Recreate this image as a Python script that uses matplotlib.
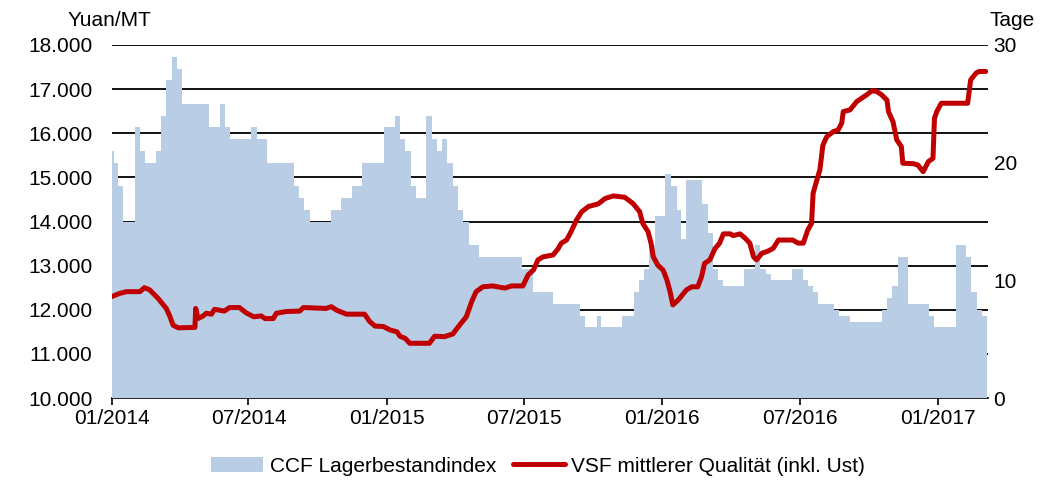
import matplotlib.pyplot as plt
import matplotlib.dates as mdates
from matplotlib.ticker import FuncFormatter
import pandas as pd

plt.rcParams['font.family'] = ['Liberation Sans', 'DejaVu Sans']
plt.rcParams['font.size'] = 15

# CCF Lagerbestandindex (Tage) - value valid from each date on
stock_dates = ['2014-01-01', '2014-01-03', '2014-01-09', '2014-01-16', '2014-01-31', '2014-02-07',
               '2014-02-14', '2014-02-28', '2014-03-07', '2014-03-14', '2014-03-21', '2014-03-28',
               '2014-04-04', '2014-05-10', '2014-05-24', '2014-05-31', '2014-06-06', '2014-07-05',
               '2014-07-12', '2014-07-26', '2014-08-30', '2014-09-06', '2014-09-13', '2014-09-20',
               '2014-10-18', '2014-11-01', '2014-11-15', '2014-11-29', '2014-12-28', '2015-01-11',
               '2015-01-18', '2015-01-24', '2015-02-01', '2015-02-08', '2015-02-22', '2015-03-01',
               '2015-03-08', '2015-03-15', '2015-03-22', '2015-03-29', '2015-04-05', '2015-04-12',
               '2015-04-19', '2015-05-03', '2015-06-29', '2015-07-13', '2015-08-09', '2015-09-14',
               '2015-09-21', '2015-10-06', '2015-10-12', '2015-11-09', '2015-11-24', '2015-12-01',
               '2015-12-08', '2015-12-14', '2015-12-22', '2016-01-05', '2016-01-13', '2016-01-20',
               '2016-01-26', '2016-02-02', '2016-02-23', '2016-03-01', '2016-03-08', '2016-03-15',
               '2016-03-22', '2016-04-19', '2016-05-03', '2016-05-10', '2016-05-17', '2016-05-24',
               '2016-06-21', '2016-07-05', '2016-07-12', '2016-07-19', '2016-07-26', '2016-08-16',
               '2016-08-23', '2016-09-06', '2016-10-18', '2016-10-25', '2016-11-01', '2016-11-08',
               '2016-11-22', '2016-12-20', '2016-12-27', '2017-01-24', '2017-02-07', '2017-02-14',
               '2017-02-21', '2017-02-28', '2017-03-07']
stock_days = [21, 20, 18, 15, 23, 21,
              20, 21, 24, 27, 29, 28,
              25, 23, 25, 23, 22, 23,
              22, 20, 18, 17, 16, 15,
              16, 17, 18, 20, 23, 24,
              22, 21, 18, 17, 24, 22,
              21, 22, 20, 18, 16, 15,
              13, 12, 11, 9, 8, 7,
              6, 7, 6, 7, 9, 10,
              11, 13, 15.5, 19, 18, 16,
              13.5, 18.5, 16.5, 14, 11, 10,
              9.5, 11, 13, 11, 10.5, 10,
              11, 10, 9.5, 9, 8, 7.5,
              7, 6.5, 7.5, 8.5, 9.5, 12,
              8, 7, 6, 13, 12, 9,
              7.5, 7, 7]

# VSF mittlerer Qualitaet (inkl. Ust), Yuan/MT
price_dates = ['2014-01-01', '2014-01-11', '2014-01-20', '2014-02-07', '2014-02-13', '2014-02-20',
               '2014-03-03', '2014-03-14', '2014-03-19', '2014-03-23', '2014-03-30', '2014-04-18',
               '2014-04-21', '2014-04-22', '2014-04-25', '2014-05-02', '2014-05-06', '2014-05-13',
               '2014-05-17', '2014-05-30', '2014-06-06', '2014-06-19', '2014-06-28', '2014-07-08',
               '2014-07-18', '2014-07-23', '2014-08-03', '2014-08-07', '2014-08-20', '2014-09-07',
               '2014-09-12', '2014-10-12', '2014-10-19', '2014-10-26', '2014-11-08', '2014-12-02',
               '2014-12-09', '2014-12-16', '2014-12-27', '2015-01-05', '2015-01-14', '2015-01-18',
               '2015-01-25', '2015-01-31', '2015-02-26', '2015-03-05', '2015-03-18', '2015-03-29',
               '2015-04-07', '2015-04-16', '2015-04-23', '2015-04-29', '2015-05-08', '2015-05-21',
               '2015-06-06', '2015-06-15', '2015-06-30', '2015-07-07', '2015-07-14', '2015-07-20',
               '2015-07-27', '2015-08-09', '2015-08-16', '2015-08-20', '2015-08-27', '2015-09-02',
               '2015-09-09', '2015-09-16', '2015-09-25', '2015-10-08', '2015-10-17', '2015-10-28',
               '2015-11-12', '2015-11-23', '2015-12-02', '2015-12-06', '2015-12-13', '2015-12-17',
               '2015-12-20', '2015-12-26', '2016-01-02', '2016-01-07', '2016-01-11', '2016-01-15',
               '2016-01-22', '2016-02-02', '2016-02-09', '2016-02-17', '2016-02-22', '2016-02-26',
               '2016-03-04', '2016-03-11', '2016-03-17', '2016-03-22', '2016-03-31', '2016-04-04',
               '2016-04-13', '2016-04-20', '2016-04-26', '2016-05-01', '2016-05-05', '2016-05-12',
               '2016-05-19', '2016-05-27', '2016-06-03', '2016-06-22', '2016-06-29', '2016-07-06',
               '2016-07-12', '2016-07-17', '2016-07-19', '2016-07-24', '2016-07-28', '2016-08-01',
               '2016-08-06', '2016-08-15', '2016-08-21', '2016-08-26', '2016-08-28', '2016-09-06',
               '2016-09-15', '2016-09-21', '2016-09-28', '2016-10-05', '2016-10-11', '2016-10-18',
               '2016-10-25', '2016-10-27', '2016-11-02', '2016-11-07', '2016-11-13', '2016-11-15',
               '2016-11-29', '2016-12-05', '2016-12-12', '2016-12-19', '2016-12-25', '2016-12-27',
               '2016-12-30', '2017-01-05', '2017-02-09', '2017-02-13', '2017-02-20', '2017-02-24',
               '2017-03-05']
price_yuan = [12300, 12370, 12410, 12410, 12500, 12450,
              12260, 12030, 11840, 11650, 11590, 11600,
              11600, 12030, 11800, 11860, 11920, 11900,
              12010, 11970, 12050, 12050, 11930, 11840,
              11860, 11800, 11800, 11920, 11960, 11970,
              12050, 12030, 12070, 11990, 11900, 11900,
              11730, 11630, 11620, 11540, 11500, 11400,
              11350, 11240, 11240, 11400, 11390, 11450,
              11650, 11840, 12180, 12410, 12520, 12540,
              12490, 12540, 12540, 12790, 12900, 13130,
              13200, 13240, 13390, 13510, 13580, 13770,
              14030, 14220, 14340, 14400, 14520, 14580,
              14550, 14410, 14220, 13960, 13770, 13510,
              13200, 13010, 12900, 12680, 12430, 12110,
              12220, 12450, 12520, 12520, 12750, 13050,
              13130, 13390, 13510, 13720, 13720, 13680,
              13720, 13620, 13510, 13200, 13130, 13280,
              13320, 13390, 13580, 13580, 13510, 13510,
              13810, 13960, 14640, 14940, 15170, 15730,
              15920, 16040, 16070, 16230, 16490, 16530,
              16720, 16790, 16870, 16960, 16950, 16870,
              16750, 16490, 16260, 15850, 15700, 15320,
              15310, 15280, 15130, 15360, 15430, 16340,
              16490, 16680, 16680, 17210, 17360, 17400,
              17400]

stock_x = pd.to_datetime(stock_dates)
price_x = pd.to_datetime(price_dates)

fig = plt.figure(figsize=(10.58, 4.83), dpi=100)
ax = fig.add_axes([112 / 1058, 1 - 398 / 483, 876 / 1058, 353 / 483])
ax2 = ax.twinx()
ax3 = ax.twinx()

# left axis: price scale with black grid
ax.set_ylim(10000, 18000)
ax.set_yticks(range(10000, 18001, 1000))
ax.yaxis.set_major_formatter(FuncFormatter(lambda v, p: f'{v:,.0f}'.replace(',', '.')))
ax.grid(axis='y', color='black', linewidth=1.3)
ax.set_axisbelow(True)
ax.tick_params(axis='y', length=0, pad=14)
ax.tick_params(axis='x', length=5, width=1.2, pad=3, direction='out')
ax.set_xlim(pd.Timestamp('2014-01-01'), pd.Timestamp('2017-03-08'))
ax.xaxis.set_major_locator(mdates.MonthLocator(bymonth=[1, 7]))
ax.xaxis.set_major_formatter(mdates.DateFormatter('%m/%Y'))
for s in ['left', 'right', 'top']:
    ax.spines[s].set_visible(False)
ax.spines['bottom'].set_linewidth(1.2)

# right axis: stock days as stepped area
ax2.fill_between(stock_x, stock_days, 0, step='post', color='#b9cde5', linewidth=0,
                 label='CCF Lagerbestandindex')
ax2.set_ylim(0, 30)
ax2.set_yticks([0, 10, 20, 30])
ax2.tick_params(axis='y', length=0, pad=4)
for s in ax2.spines.values():
    s.set_visible(False)

# price line on top
ax3.plot(price_x, price_yuan, color='#c00000', linewidth=3.6, solid_capstyle='round',
         solid_joinstyle='round', label='VSF mittlerer Qualität (inkl. Ust)')
ax3.set_ylim(10000, 18000)
ax3.set_xlim(ax.get_xlim())
ax3.axis('off')

fig.text(109.5 / 1058, 1 - 20 / 483, 'Yuan/MT', ha='center', va='center')
fig.text(989 / 1058, 1 - 20 / 483, 'Tage', ha='left', va='center')

h1, l1 = ax2.get_legend_handles_labels()
h2, l2 = ax3.get_legend_handles_labels()
fig.legend(h1 + h2, l1 + l2, loc='center', bbox_to_anchor=(538 / 1058, 1 - 466 / 483), ncol=2,
           frameon=False, handlelength=2.5, handletextpad=0.3, columnspacing=0.8)

fig.savefig('out.png', dpi=100)
